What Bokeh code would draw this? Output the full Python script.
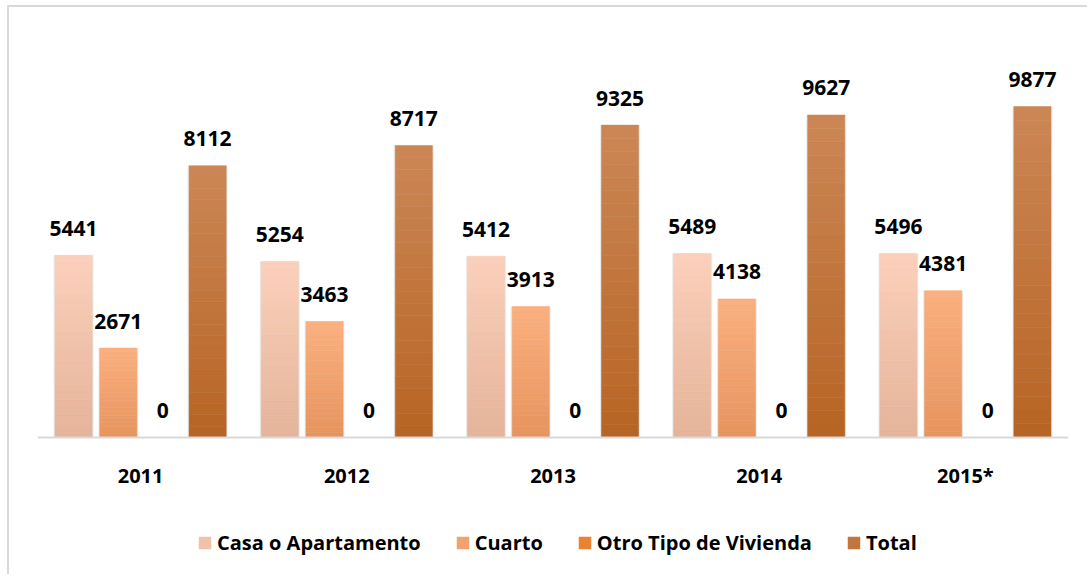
from bokeh.plotting import figure
from bokeh.models import FactorRange, Range1d, ColumnDataSource, Legend, LegendItem, Span
from bokeh.transform import dodge
from bokeh.core.properties import value
from bokeh.embed import file_html
from bokeh.resources import INLINE

years = ["2011", "2012", "2013", "2014", "2015*"]
series_names = ["Casa o Apartamento", "Cuarto", "Otro Tipo de Vivienda", "Total"]
casa = [5441, 5254, 5412, 5489, 5496]
cuarto = [2671, 3463, 3913, 4138, 4381]
otro = [0, 0, 0, 0, 0]
total = [8112, 8717, 9325, 9627, 9877]

# gradient colours (bottom, top) per series
grad = [
    ((229, 179, 153), (251, 208, 186)),
    ((231, 148, 94), (250, 176, 127)),
    ((226, 122, 40), (240, 140, 60)),
    ((183, 100, 35), (204, 135, 86)),
]
offsets = [-0.325, -0.108, 0.108, 0.325]
bar_w = 0.18
N = 24

Y_TOP = 12000
FRAME_H = 541
PX_PER_UNIT = 402 / Y_TOP
y_start = Y_TOP - FRAME_H / PX_PER_UNIT

p = figure(x_range=FactorRange(*years), y_range=Range1d(y_start, Y_TOP),
           width=1080, height=569, output_backend="svg", toolbar_location=None,
           min_border_left=28, min_border_right=21, min_border_top=28,
           min_border_bottom=0, outline_line_color=None)
p.styles = {"border-top": "2px solid #d9d9d9", "border-left": "2px solid #d9d9d9",
            "margin-left": "7px", "margin-top": "5px"}
p.xgrid.visible = False
p.ygrid.visible = False
p.xaxis.visible = False
p.yaxis.visible = False

p.add_layout(Span(location=0, dimension="width", line_color="#d9d9d9", line_width=2))


def hexcol(c):
    return "#%02x%02x%02x" % tuple(int(round(v)) for v in c)


legend_items = []
all_vals = [casa, cuarto, otro, total]
for si, (name, vals) in enumerate(zip(series_names, all_vals)):
    off = offsets[si]
    # soft shadow
    sh = ColumnDataSource(dict(x=years, top=vals))
    for w, a in ((bar_w + 0.016, 0.05), (bar_w + 0.008, 0.06)):
        p.vbar(x=dodge("x", off, range=p.x_range), top="top", bottom=0, width=w,
               source=sh, fill_color="#000000", fill_alpha=a, line_color=None)
    lo, hi = grad[si]
    leg_r = None
    for i in range(N):
        t = (i + 0.5) / N
        col = hexcol(tuple(lo[k] + (hi[k] - lo[k]) * t for k in range(3)))
        src = ColumnDataSource(dict(x=years,
                                    bottom=[v * i / N for v in vals],
                                    top=[v * (i + 1) / N for v in vals]))
        r = p.vbar(x=dodge("x", off, range=p.x_range), top="top", bottom="bottom",
                   width=bar_w, source=src, fill_color=col, line_color=col, line_width=0.5)
        if i == N // 2:
            leg_r = r
    legend_items.append(LegendItem(label=name, renderers=[leg_r]))
    lab = ColumnDataSource(dict(x=years, y=vals, t=[str(v) for v in vals]))
    p.text(x=dodge("x", off, range=p.x_range), y="y", text="t", source=lab,
           text_font=value("Open Sans"), text_font_style="bold", text_font_size="21px",
           text_color="#000000", text_align="center", text_baseline="alphabetic",
           y_offset=-27)

# category labels under the baseline
cat = ColumnDataSource(dict(x=years, y=[0] * len(years), t=years))
p.text(x="x", y="y", text="t", source=cat,
       text_font=value("Open Sans"), text_font_style="bold", text_font_size="20px",
       text_color="#000000", text_align="center", text_baseline="alphabetic",
       y_offset=38)

legend = Legend(items=legend_items, orientation="horizontal", location=(160, 20),
                glyph_width=15, glyph_height=15, label_standoff=5, spacing=34,
                label_text_font="Open Sans", label_text_font_style="bold",
                label_text_font_size="20px", label_text_color="#000000",
                border_line_color=None, background_fill_alpha=0, padding=6, margin=0)
p.add_layout(legend, "center")

open("out.html", "w").write(file_html(p, INLINE))
